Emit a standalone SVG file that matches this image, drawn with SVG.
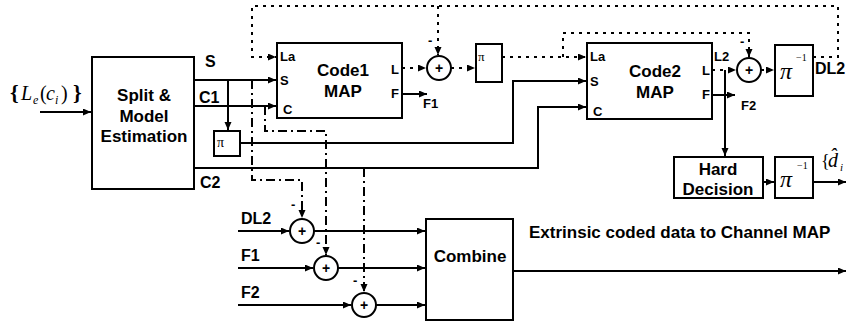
<svg xmlns="http://www.w3.org/2000/svg" width="847" height="326" viewBox="0 0 847 326">
<style>
.box{fill:#fff;stroke:#000;stroke-width:2}
.sum{fill:#fff;stroke:#000;stroke-width:2}
.ln{fill:none;stroke:#000;stroke-width:2}
.dot{fill:none;stroke:#000;stroke-width:2;stroke-dasharray:3 5}
.dd{fill:none;stroke:#000;stroke-width:2;stroke-dasharray:9 4 2 4}
.t{font-family:"Liberation Sans",Arial,sans-serif;font-weight:bold;fill:#000}
.big{font-size:17px}
.mid{font-size:16px}
.sm{font-size:13px}
.c{text-anchor:middle}
.ser{font-family:"Liberation Serif","Times New Roman",serif;fill:#000}
</style>
<defs>
<marker id="ah" markerUnits="userSpaceOnUse" markerWidth="9" markerHeight="8" refX="8" refY="3.5" orient="auto">
<path d="M0,0 L8,3.5 L0,7 z" fill="#000"/>
</marker>
</defs>
<g id="connectors">
<path class="ln" d="M40,112 H91" marker-end="url(#ah)"/>
<path class="ln" d="M194,80 H276" marker-end="url(#ah)"/>
<path class="ln" d="M194,106 H276" marker-end="url(#ah)"/>
<path class="ln" d="M228,80 V130" marker-end="url(#ah)"/>
<path class="ln" d="M240,143 H513 V81 H586" marker-end="url(#ah)"/>
<path class="ln" d="M194,168 H538 V107 H586" marker-end="url(#ah)"/>
<path class="ln" d="M402,94 H427" marker-end="url(#ah)"/>
<path class="ln" d="M712,95 H735" marker-end="url(#ah)"/>
<path class="ln" d="M725,70 V156" marker-end="url(#ah)"/>
<path class="ln" d="M763,182 H774" marker-end="url(#ah)"/>
<path class="ln" d="M813,182 H846" marker-end="url(#ah)"/>
<path class="ln" d="M238,231 H289" marker-end="url(#ah)"/>
<path class="ln" d="M314,231 H425" marker-end="url(#ah)"/>
<path class="ln" d="M238,268 H313" marker-end="url(#ah)"/>
<path class="ln" d="M338,268 H425" marker-end="url(#ah)"/>
<path class="ln" d="M238,305 H351" marker-end="url(#ah)"/>
<path class="ln" d="M376,305 H425" marker-end="url(#ah)"/>
<path class="ln" d="M513,271 H846" marker-end="url(#ah)"/>
<path class="dot" d="M813,57 H838 V6 H252 V57 H276" marker-end="url(#ah)"/>
<path class="dot" d="M438,6 V55" marker-end="url(#ah)"/>
<path class="dot" d="M402,68 H426" marker-end="url(#ah)"/>
<path class="dot" d="M451,68 H475" marker-end="url(#ah)"/>
<path class="dot" d="M502,57 H586" marker-end="url(#ah)"/>
<path class="dot" d="M563,57 V33 H749 V57" marker-end="url(#ah)"/>
<path class="dot" d="M712,70 H736" marker-end="url(#ah)"/>
<path class="dot" d="M761,70 H774" marker-end="url(#ah)"/>
<path class="dd" d="M252,80 V180 H302 V218" marker-end="url(#ah)"/>
<path class="dd" d="M265,106 V131 H326 V255" marker-end="url(#ah)"/>
<path class="dd" d="M364,168 V292" marker-end="url(#ah)"/>
</g>
<g id="input-label">
<text class="ser" x="10" y="100" font-size="22" font-weight="bold">{</text>
<text class="ser" x="21" y="100" font-size="20" font-style="italic">L</text>
<text class="ser" x="33" y="104" font-size="12" font-style="italic">e</text>
<text class="ser" x="40" y="100" font-size="20">(</text>
<text class="ser" x="46" y="100" font-size="20" font-style="italic">c</text>
<text class="ser" x="55" y="104" font-size="12" font-style="italic">i</text>
<text class="ser" x="61" y="100" font-size="20">)</text>
<text class="ser" x="73" y="100" font-size="22" font-weight="bold">}</text>
</g>
<g id="split">
<rect class="box" x="92" y="57" width="102" height="132"/>
<text class="t big c" x="144" y="101">Split &amp;</text>
<text class="t big c" x="144" y="122">Model</text>
<text class="t big c" x="144" y="142">Estimation</text>
</g>
<g id="split-labels">
<text class="t mid" x="205" y="67">S</text>
<text class="t mid" x="199" y="103">C1</text>
<text class="t mid" x="200" y="188">C2</text>
</g>
<g id="pi1">
<rect class="box" x="214" y="131" width="26" height="25"/>
<text class="ser" x="217" y="147" font-size="14">π</text>
</g>
<g id="code1">
<rect class="box" x="277" y="43" width="125" height="75"/>
<text class="t big c" x="343" y="76">Code1</text>
<text class="t big c" x="343" y="97">MAP</text>
<text class="t sm" x="280" y="61">La</text>
<text class="t sm" x="280" y="85">S</text>
<text class="t sm" x="283" y="114">C</text>
<text class="t sm" x="391" y="74">L</text>
<text class="t sm" x="391" y="98">F</text>
</g>
<text class="t sm" x="423" y="108">F1</text>
<g id="sum1">
<circle class="sum" cx="439" cy="68" r="12"/>
<text class="t c" x="439" y="73" font-size="14">+</text>
<text class="t" x="428" y="45" font-size="13">-</text>
</g>
<g id="pi2">
<rect class="box" x="476" y="44" width="26" height="38"/>
<text class="ser" x="478" y="61" font-size="13">π</text>
</g>
<g id="code2">
<rect class="box" x="587" y="43" width="125" height="76"/>
<text class="t big c" x="655" y="77">Code2</text>
<text class="t big c" x="655" y="98">MAP</text>
<text class="t sm" x="590" y="61">La</text>
<text class="t sm" x="590" y="86">S</text>
<text class="t sm" x="593" y="116">C</text>
<text class="t sm" x="702" y="75">L</text>
<text class="t sm" x="702" y="99">F</text>
<text class="t sm" x="714" y="61">L2</text>
</g>
<text class="t sm" x="741" y="110">F2</text>
<g id="sum2">
<circle class="sum" cx="749" cy="70" r="12"/>
<text class="t c" x="749" y="75" font-size="14">+</text>
<text class="t" x="740" y="46" font-size="13">-</text>
</g>
<g id="deint1">
<rect class="box" x="775" y="45" width="38" height="51"/>
<text class="ser" x="780" y="79" font-size="24" font-style="italic">π</text>
<text class="ser" x="796" y="61" font-size="10">−1</text>
</g>
<text class="t mid" x="815" y="74">DL2</text>
<g id="hard">
<rect class="box" x="674" y="157" width="89" height="41"/>
<text class="t big c" x="718" y="175">Hard</text>
<text class="t big c" x="718" y="195">Decision</text>
</g>
<g id="deint2">
<rect class="box" x="775" y="157" width="38" height="41"/>
<text class="ser" x="780" y="187" font-size="24" font-style="italic">π</text>
<text class="ser" x="797" y="169" font-size="10">−1</text>
</g>
<g id="out-label">
<text class="ser" x="821" y="167" font-size="18">{</text>
<text class="ser" x="828" y="167" font-size="20" font-style="italic">d̂</text>
<text class="ser" x="840" y="171" font-size="11" font-style="italic">i</text>
</g>
<g id="sum-dl2">
<circle class="sum" cx="302" cy="231" r="12"/>
<text class="t c" x="302" y="236" font-size="14">+</text>
<text class="t" x="291" y="209" font-size="13">-</text>
</g>
<g id="sum-f1">
<circle class="sum" cx="326" cy="268" r="12"/>
<text class="t c" x="326" y="273" font-size="14">+</text>
<text class="t" x="316" y="247" font-size="13">-</text>
</g>
<g id="sum-f2">
<circle class="sum" cx="364" cy="305" r="12"/>
<text class="t c" x="364" y="310" font-size="14">+</text>
<text class="t" x="353" y="285" font-size="13">-</text>
</g>
<g id="bottom-labels">
<text class="t mid" x="241" y="224">DL2</text>
<text class="t mid" x="241" y="261">F1</text>
<text class="t mid" x="241" y="298">F2</text>
</g>
<g id="combine">
<rect class="box" x="426" y="219" width="87" height="101"/>
<text class="t big c" x="470" y="262">Combine</text>
</g>
<text class="t" x="529" y="238" font-size="17">Extrinsic coded data to Channel MAP</text>
</svg>
